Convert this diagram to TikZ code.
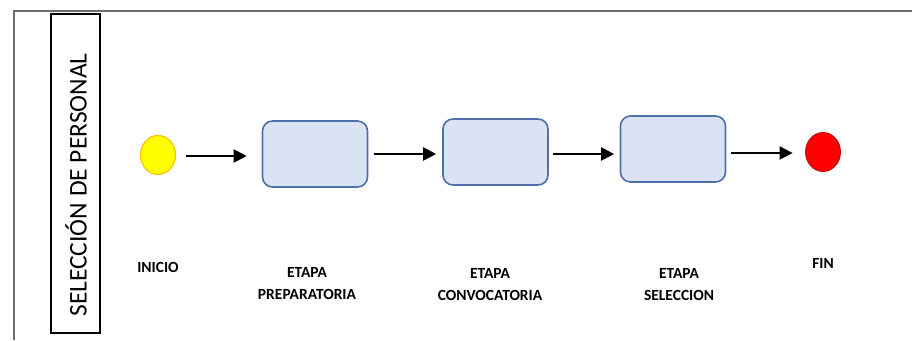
\documentclass[tikz,border=0pt]{standalone}
\usepackage{fontspec}
\setmainfont{Carlito}
\usetikzlibrary{arrows.meta,shapes.geometric,calc}
\definecolor{boxfill}{HTML}{DAE3F3}
\definecolor{boxline}{HTML}{4F6FA8}
\definecolor{startfill}{HTML}{FFFF00}
\definecolor{startline}{HTML}{FFC000}
\definecolor{endfill}{HTML}{FF0000}
\definecolor{endline}{HTML}{C00000}
\definecolor{framegray}{HTML}{6E6E6E}
\tikzset{
  stage/.style={draw=boxline, fill=boxfill, line width=1.6pt, rounded corners=10pt, minimum width=105pt, minimum height=66pt, inner sep=0pt},
  startev/.style={ellipse, draw=startline, fill=startfill, line width=1.2pt, minimum width=35pt, minimum height=39pt, inner sep=0pt},
  endev/.style={ellipse, draw=endline, fill=endfill, line width=0.8pt, minimum width=35pt, minimum height=39pt, inner sep=0pt},
  flow/.style={line width=2pt, -{Triangle[length=13pt,width=13pt]}},
  lbl/.style={font=\bfseries\fontsize{15.5}{22}\selectfont, align=center, inner sep=0pt},
}
\begin{document}
\begin{tikzpicture}[x=1pt,y=-1pt]
\useasboundingbox (0,0) rectangle (912,340);
% frame
\coordinate (ftl) at (14,11);
\coordinate (ftr) at (912,11);
\coordinate (fbl) at (14,340);
\draw[framegray, line width=1.4pt] (ftr) -- (ftl) -- (fbl);
% side title
\node[draw, line width=1.2pt, minimum width=49pt, minimum height=319pt, inner sep=0pt] (title) at (75.5,173.5) {};
\node[rotate=90, font=\fontsize{25.5}{30}\selectfont] (titletext) at (76,185) {SELECCIÓN DE PERSONAL};
% events and stages
\node[startev] (start) at (158,155) {};
\node[stage] (s1) at (315,154) {};
\node[stage] (s2) at (495.5,152) {};
\node[stage] (s3) at (673,149) {};
\node[endev] (fin) at (823,152) {};
% connectors
\coordinate (a1s) at ($(start.east)+(9.5,1)$);
\coordinate (a1e) at ($(a1s -| s1.west)+(-15,0)$);
\coordinate (a2s) at ($(s1.east)+(5.5,0)$);
\coordinate (a2e) at ($(a2s -| s2.west)+(-6,0)$);
\coordinate (a3s) at ($(s2.east)+(4,2)$);
\coordinate (a3e) at ($(a3s -| s3.west)+(-5.5,0)$);
\coordinate (a4s) at ($(s3.east)+(4.5,4)$);
\coordinate (a4e) at ($(a4s -| fin.west)+(-12.5,0)$);
\draw[flow] (a1s) -- (a1e);
\draw[flow] (a2s) -- (a2e);
\draw[flow] (a3s) -- (a3e);
\draw[flow] (a4s) -- (a4e);
% labels
\node[lbl] (linicio) at (158,267) {INICIO};
\node[lbl] (l1) at (307,284) {ETAPA\\PREPARATORIA};
\node[lbl] (l2) at (490,285) {ETAPA\\CONVOCATORIA};
\node[lbl] (l3) at (679,285) {ETAPA\\SELECCION};
\node[lbl] (lfin) at (823,263) {FIN};
\end{tikzpicture}
\end{document}
